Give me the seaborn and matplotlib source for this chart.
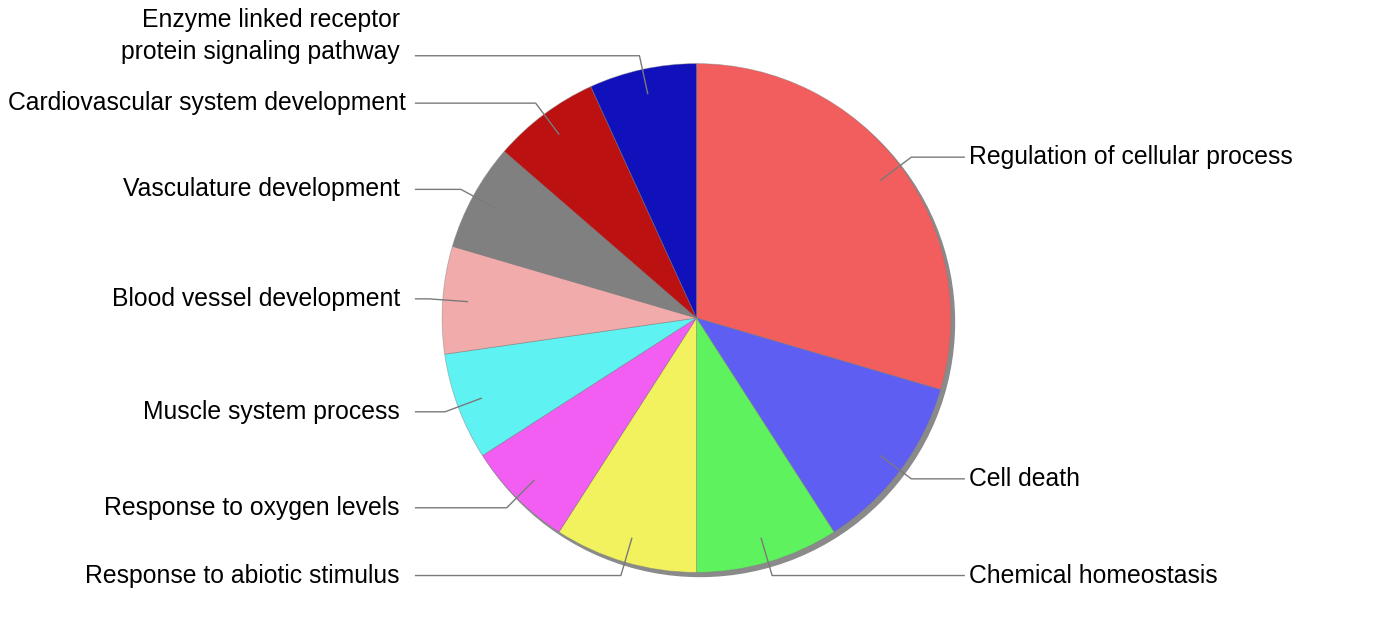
import matplotlib
matplotlib.use("Agg")
import matplotlib.pyplot as plt
import numpy as np
import seaborn as sns
from matplotlib.patches import Circle

labels = [
    "Regulation of cellular process",
    "Cell death",
    "Chemical homeostasis",
    "Response to abiotic stimulus",
    "Response to oxygen levels",
    "Muscle system process",
    "Blood vessel development",
    "Vasculature development",
    "Cardiovascular system development",
    "Enzyme linked receptor\nprotein signaling pathway",
]
counts = [13, 5, 4, 4, 3, 3, 3, 3, 3, 3]
colors = ["#F25E5E", "#5E5EF2", "#5EF25E", "#F2F25E", "#F25EF2",
          "#5EF2F2", "#F2ABAB", "#808080", "#BB1111", "#1111BB"]


def main():
    sns.set_theme(style="white")
    plt.rcParams["font.family"] = ["Liberation Sans", "DejaVu Sans"]
    palette = sns.color_palette(colors)

    fig = plt.figure(figsize=(13.93, 6.36), dpi=100)
    ax = fig.add_axes([0, 0, 1, 1])
    r_px = 271
    cx, cy = 738, 342
    ax.set_xlim(-cx / r_px, (1393 - cx) / r_px)
    ax.set_ylim(-(636 - cy) / r_px, cy / r_px)
    ax.set_aspect("equal")
    ax.axis("off")

    # shadow behind the pie
    ax.add_patch(Circle((0.014, -0.016), 1.0, color="#8a8a8a", zorder=0))

    wedges, _ = ax.pie(counts, colors=palette, startangle=90, counterclock=False,
                       radius=1.0, wedgeprops=dict(edgecolor=(0.5, 0.5, 0.5, 0.5),
                                                   linewidth=0.6, zorder=1))

    fs = 17.8
    x_right_line, x_right_text = 1.055, 1.070
    x_left_line, x_left_text = -1.107, -1.166
    left_texts = []
    for w, lab in zip(wedges, labels):
        ang = np.deg2rad((w.theta1 + w.theta2) / 2)
        dx, dy = np.cos(ang), np.sin(ang)
        inner = (0.9 * dx, 0.9 * dy)
        elbow = (1.055 * dx, 1.055 * dy)
        if dx >= 0:
            xe = x_right_line
            xt, ha = x_right_text, "left"
        else:
            xe = x_left_line
            xt, ha = x_left_text, "right"
        ax.plot([inner[0], elbow[0], xe], [inner[1], elbow[1], elbow[1]],
                color="#7a7a7a", lw=1.0, zorder=3, solid_capstyle="butt")
        if "\n" in lab:
            t = ax.text(xt, elbow[1] - 0.032, lab, ha=ha, va="bottom", fontsize=fs,
                        multialignment="right", linespacing=1.4, color="black")
        else:
            t = ax.text(xt, elbow[1], lab, ha=ha, va="center", fontsize=fs,
                        color="black")
        if ha == "right":
            left_texts.append(t)

    # long labels on the left slide right to meet the leader line
    fig.canvas.draw()
    renderer = fig.canvas.get_renderer()
    for t in left_texts:
        bb = t.get_window_extent(renderer)
        if bb.x0 < 8:
            t.set_x(t.get_position()[0] + (8 - bb.x0) / r_px)

    fig.savefig("out.png", dpi=100, facecolor="white")
    plt.close(fig)


if __name__ == "__main__":
    main()
